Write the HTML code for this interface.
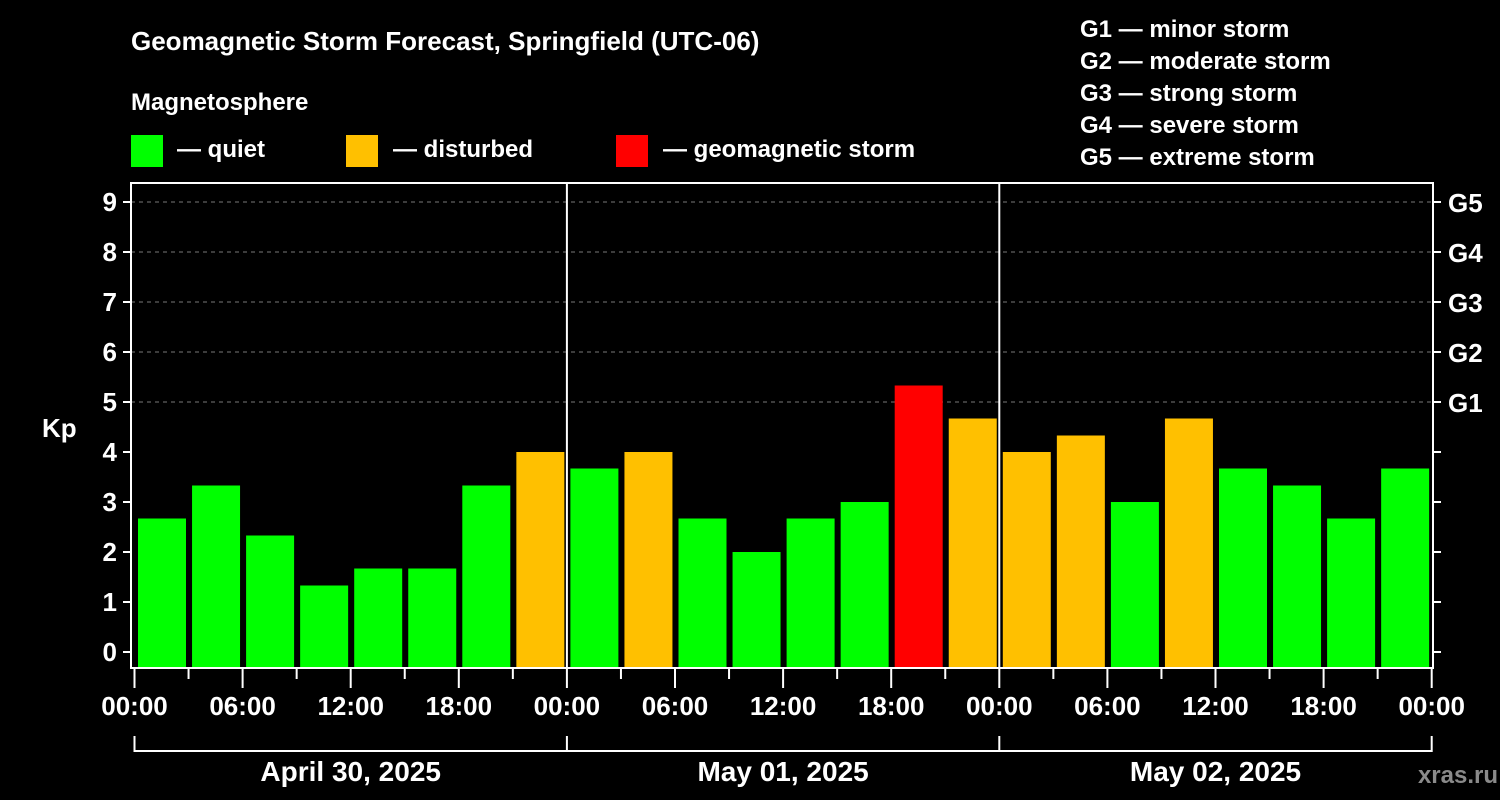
<!DOCTYPE html>
<html><head><meta charset="utf-8"><style>
body{margin:0;background:#000;width:1500px;height:800px;overflow:hidden}
svg{display:block}
text{font-family:"Liberation Sans",Arial,sans-serif;font-weight:bold;fill:#fff}
</style></head><body>
<svg id="c" width="1500" height="800">
<text x="131" y="50" font-size="26">Geomagnetic Storm Forecast, Springfield (UTC-06)</text>
<text x="131" y="110" font-size="24">Magnetosphere</text>
<rect x="131" y="135" width="32" height="32" fill="#00ff00"/>
<text x="177" y="157" font-size="24">— quiet</text>
<rect x="346" y="135" width="32" height="32" fill="#ffc000"/>
<text x="393" y="157" font-size="24">— disturbed</text>
<rect x="616" y="135" width="32" height="32" fill="#ff0000"/>
<text x="663" y="157" font-size="24">— geomagnetic storm</text>
<g font-size="24">
<text x="1080" y="37">G1 — minor storm</text>
<text x="1080" y="69">G2 — moderate storm</text>
<text x="1080" y="101">G3 — strong storm</text>
<text x="1080" y="133">G4 — severe storm</text>
<text x="1080" y="165">G5 — extreme storm</text>
</g>
<text x="42" y="437" font-size="26">Kp</text>
<text x="1498" y="783" font-size="24" text-anchor="end" fill="#888" style="fill:#8a8a8a">xras.ru</text>
<g id="g"></g>
</svg>
<script>
const days = ["April 30, 2025","May 01, 2025","May 02, 2025"];
const hourLabels = ["00:00","06:00","12:00","18:00"];
const kpValues = [2.67,3.33,2.33,1.33,1.67,1.67,3.33,4.0, 3.67,4.0,2.67,2.0,2.67,3.0,5.33,4.67, 4.0,4.33,3.0,4.67,3.67,3.33,2.67,3.67];
const kpTicks = [0,1,2,3,4,5,6,7,8,9];
const gLabels = ["G1","G2","G3","G4","G5"];
const gLevels = [5,6,7,8,9];

const NS="http://www.w3.org/2000/svg", g=document.getElementById('g');
const X0=134.5, SLOT=54.05, L=131, R=1433, T=183, B=668;
const xs=i=>X0+i*SLOT;
const ys=v=>652-50*v;
function mk(t,a,p){const e=document.createElementNS(NS,t);for(const k in a)e.setAttribute(k,a[k]);(p||g).appendChild(e);return e;}
// grid
gLevels.forEach(v=>{
 const l=mk('line',{x1:L,x2:R,y1:ys(v),y2:ys(v),stroke:'#777','stroke-dasharray':'4,4','stroke-width':1});
 
 
});
// bars
kpValues.forEach((v,i)=>{
 const c=v>=5?'#ff0000':(v>=4?'#ffc000':'#00ff00');
 const r=mk('rect',{x:xs(i)+3.5,y:ys(v),width:48,height:B-ys(v),fill:c});
 
 
});
// day separators
for(let d=1;d<days.length;d++){
 const l=mk('line',{x1:xs(d*8),x2:xs(d*8),y1:T,y2:B,stroke:'#fff','stroke-width':2});
 
 
}
// frame
const f=mk('rect',{x:L,y:T,width:R-L,height:B-T,fill:'none',stroke:'#fff','stroke-width':2});


// y ticks
kpTicks.forEach(v=>{
 mk('line',{x1:L-8,x2:L,y1:ys(v),y2:ys(v),stroke:'#fff','stroke-width':2});
 mk('line',{x1:R,x2:R+8,y1:ys(v),y2:ys(v),stroke:'#fff','stroke-width':2});
 const t=mk('text',{x:L-14,y:ys(v)+9,'font-size':26,'text-anchor':'end'});t.textContent=v;
 
 
});
gLevels.forEach((v,i)=>{
 const t=mk('text',{x:1448,y:ys(v)+10,'font-size':26});t.textContent=gLabels[i];
 
 
});
// x ticks
for(let i=0;i<=days.length*8;i++){
 const major=i%2==0;
 mk('line',{x1:xs(i),x2:xs(i),y1:B,y2:B+(major?20:11),stroke:'#fff','stroke-width':2});
 if(major){
  const t=mk('text',{x:xs(i),y:715,'font-size':26,'text-anchor':'middle'});t.textContent=hourLabels[(i/2)%4];
  
  
 }
}
// day brackets
mk('line',{x1:xs(0),x2:xs(days.length*8),y1:751,y2:751,stroke:'#fff','stroke-width':2});
for(let d=0;d<=days.length;d++) mk('line',{x1:xs(d*8),x2:xs(d*8),y1:736,y2:752,stroke:'#fff','stroke-width':2});
days.forEach((s,d)=>{
 const t=mk('text',{x:xs(d*8+4),y:781,'font-size':28,'text-anchor':'middle'});t.textContent=s;
 
 
});
</script>
</body></html>
